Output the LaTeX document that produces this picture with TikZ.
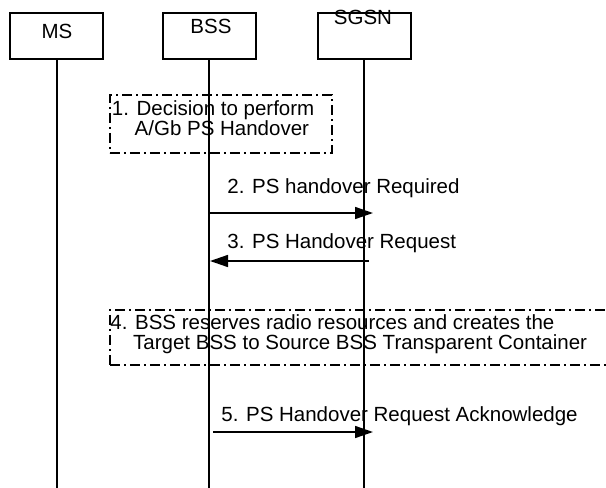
\documentclass[tikz,border=0pt]{standalone}
\usepackage{fontspec}
\setmainfont{Liberation Sans}
\usetikzlibrary{arrows.meta}

\begin{document}
\begin{tikzpicture}[x=0.5pt, y=-0.5pt,
   every node/.style={font=\fontsize{10.25}{10}\selectfont, inner sep=0pt},
   entity/.style={draw, line width=1pt, minimum width=46.5pt, minimum height=23pt},
   lifeline/.style={line width=1pt},
   msg/.style={line width=0.75pt, -{Triangle[length=9pt,width=6pt]}},
   stepframe/.style={draw, line width=0.9pt, dash pattern=on 5pt off 2pt on 1pt off 2pt},
   steptext/.style={anchor=north west, align=left},
   msgtext/.style={anchor=base west}]

\useasboundingbox (0,0) rectangle (606,488);
\coordinate (bottom) at (0,488);

% entities and lifelines
\node[entity] (ms) at (56.5,36) {};
\node[anchor=base] (mslabel) at (57,38) {MS};
\node[entity] (bss) at (209,36) {};
\node[anchor=base] (bsslabel) at (211,33) {BSS};
\node[entity] (sgsn) at (364,36) {};
\node[anchor=base] (sgsnlabel) at (363,24) {SGSN};

\draw[lifeline] (ms.south) -- (ms.south |- bottom);
\draw[lifeline] (bss.south) -- (bss.south |- bottom);
\draw[lifeline] (sgsn.south) -- (sgsn.south |- bottom);

% step 1
\node[stepframe, anchor=north west, minimum width=111pt, minimum height=29pt] (frame1) at (109,94) {};
\node[steptext] (text1) at (111.5,100.5) {1. Decision to perform\\\phantom{1.\ }A/Gb PS Handover};

% steps 2 and 3
\node[msgtext] (label2) at (227,193) {2. PS handover Required};
\draw[msg] (bss |- 0,213) -- ([xshift=4.5pt]sgsn |- 0,213);
\node[msgtext] (label3) at (227,248) {3. PS Handover Request};
\draw[msg] ([xshift=2.5pt]sgsn |- 0,261) -- ([xshift=0.5pt]bss |- 0,261);

% step 4
\node[stepframe, anchor=north west, minimum width=260pt, minimum height=27.5pt] (frame4) at (109,309) {};
\node[steptext] (text4) at (110,314.5) {4. BSS reserves radio resources and creates the\\\phantom{4.\ }Target BSS to Source BSS Transparent Container};

% step 5
\node[msgtext] (label5) at (221,421) {5. PS Handover Request Acknowledge};
\draw[msg] ([xshift=2pt]bss |- 0,432) -- ([xshift=4.5pt]sgsn |- 0,432);

\end{tikzpicture}
\end{document}
